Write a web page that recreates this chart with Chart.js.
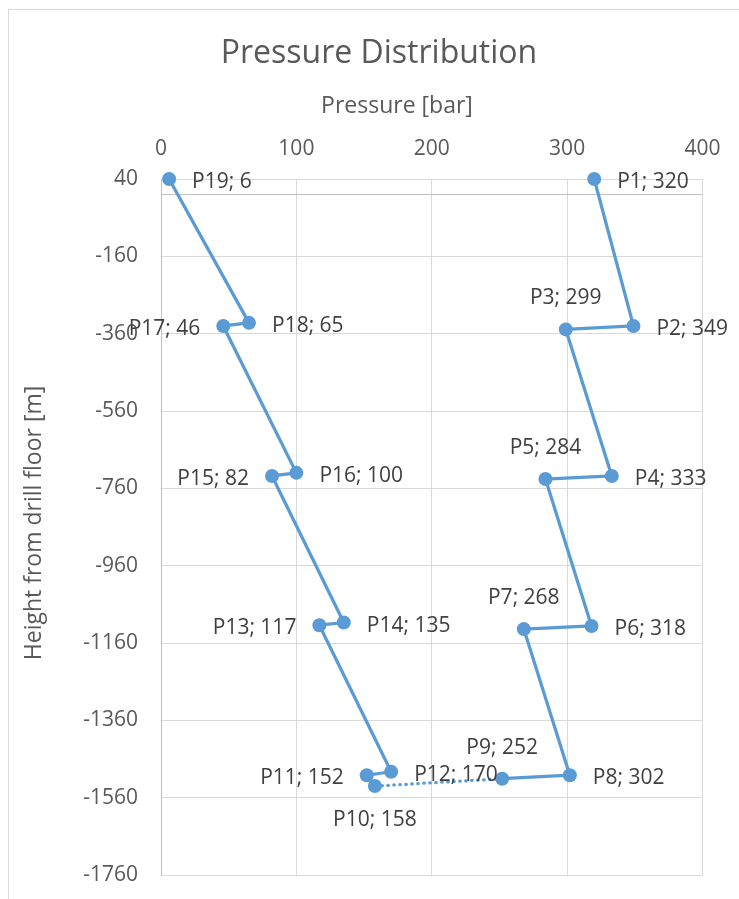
<!DOCTYPE html>
<html>
<head>
<meta charset="utf-8">
<title>Pressure Distribution</title>
<script src="https://cdn.jsdelivr.net/npm/chart.js@4/dist/chart.umd.min.js"></script>
<style>
  html, body { margin: 0; padding: 0; background: #ffffff; }
  #wrap { width: 739px; height: 899px; }
  canvas { display: block; }
</style>
</head>
<body>
<div id="wrap"><canvas id="chart" width="739" height="899"></canvas></div>
<script>
// Measuring points along the line, in flow order
const pointNames = ['P1','P2','P3','P4','P5','P6','P7','P8','P9','P10',
                    'P11','P12','P13','P14','P15','P16','P17','P18','P19'];
// Pressure at each point [bar]
const pressureBar = [320, 349, 299, 333, 284, 318, 268, 302, 252, 158,
                     152, 170, 117, 135, 82, 100, 46, 65, 6];
// Height of each point relative to the drill floor [m]
const heightM = [40, -340, -349, -728, -736, -1116, -1124, -1502, -1511, -1530,
                 -1502, -1493, -1114, -1107, -728, -720, -340, -332, 40];
// Axis tick values
const pressureTicks = [0, 100, 200, 300, 400];
const heightTicks = [40, -160, -360, -560, -760, -960, -1160, -1360, -1560, -1760];

// Which side of its marker each label sits on
const labelSide = {
  P1: 'right', P2: 'right', P3: 'above', P4: 'right', P5: 'above',
  P6: 'right', P7: 'above', P8: 'right', P9: 'above', P10: 'below',
  P11: 'left', P12: 'right', P13: 'left', P14: 'right', P15: 'left',
  P16: 'right', P17: 'left', P18: 'right', P19: 'right'
};

const FONT = "'Open Sans', sans-serif";
const BLUE = '#5B9BD5';
const GRID = '#D9D9D9';
const AXIS = '#BFBFBF';
const TEXT = '#595959';
const LABEL = '#404040';

Chart.defaults.font.family = FONT;
Chart.defaults.color = TEXT;

// Outer frame of the chart
const framePlugin = {
  id: 'frame',
  beforeDraw(chart) {
    const ctx = chart.ctx;
    ctx.save();
    ctx.fillStyle = '#ffffff';
    ctx.fillRect(0, 0, chart.width, chart.height);
    ctx.strokeStyle = GRID;
    ctx.lineWidth = 1;
    ctx.strokeRect(8.5, 9.5, chart.width + 20, chart.height + 20);
    ctx.restore();
  }
};

// Horizontal axis line where the height is zero
const zeroLinePlugin = {
  id: 'zeroLine',
  beforeDatasetsDraw(chart) {
    const { ctx, chartArea, scales } = chart;
    const y = Math.round(scales.y.getPixelForValue(0)) + 0.5;
    ctx.save();
    ctx.strokeStyle = AXIS;
    ctx.lineWidth = 1;
    ctx.beginPath();
    ctx.moveTo(chartArea.left, y);
    ctx.lineTo(chartArea.right, y);
    ctx.stroke();
    ctx.restore();
  }
};

// "Name; value" labels beside each marker
const pointLabelPlugin = {
  id: 'pointLabels',
  afterDatasetsDraw(chart) {
    const ctx = chart.ctx;
    const meta = chart.getDatasetMeta(0);
    ctx.save();
    ctx.font = '21px ' + FONT;
    ctx.fillStyle = LABEL;
    ctx.textBaseline = 'alphabetic';
    meta.data.forEach((pt, i) => {
      const name = pointNames[i];
      const text = name + '; ' + pressureBar[i];
      const side = labelSide[name];
      let x = pt.x, y = pt.y;
      if (side === 'right') { ctx.textAlign = 'left'; x += 23; y += 9; }
      else if (side === 'left') { ctx.textAlign = 'right'; x -= 23; y += 9; }
      else if (side === 'above') { ctx.textAlign = 'center'; y -= 25; }
      else { ctx.textAlign = 'center'; y += 40; }
      ctx.fillText(text, x, y);
    });
    ctx.restore();
  }
};

// Chart title and axis titles
const titlesPlugin = {
  id: 'titles',
  afterDraw(chart) {
    const ctx = chart.ctx;
    ctx.save();
    ctx.fillStyle = TEXT;
    ctx.textAlign = 'center';
    ctx.textBaseline = 'alphabetic';
    ctx.font = '32px ' + FONT;
    ctx.fillText('Pressure Distribution', 379, 63);
    ctx.font = '23px ' + FONT;
    ctx.fillText('Pressure [bar]', 397, 113);
    ctx.translate(41, 523);
    ctx.rotate(-Math.PI / 2);
    ctx.fillText('Height from drill floor [m]', 0, 0);
    ctx.restore();
  }
};

const points = pressureBar.map((p, i) => ({ x: p, y: heightM[i] }));

new Chart(document.getElementById('chart'), {
  type: 'scatter',
  data: {
    datasets: [{
      label: 'Pressure',
      data: points,
      showLine: true,
      borderColor: BLUE,
      backgroundColor: BLUE,
      borderWidth: 3.25,
      borderCapStyle: 'round',
      borderJoinStyle: 'round',
      pointRadius: 7,
      pointHoverRadius: 7,
      pointBorderWidth: 0,
      pointBackgroundColor: BLUE,
      clip: false,
      segment: {
        borderDash: ctx => (ctx.p0DataIndex === 8 ? [0.5, 5.5] : undefined)
      }
    }]
  },
  options: {
    responsive: false,
    devicePixelRatio: 1,
    animation: false,
    events: [],
    layout: { padding: { left: 0, top: 0, right: 36.5, bottom: 24 } },
    plugins: {
      legend: { display: false },
      title: { display: false },
      tooltip: { enabled: false }
    },
    scales: {
      x: {
        type: 'linear',
        position: 'top',
        min: 0,
        max: 400,
        afterBuildTicks: scale => { scale.ticks = pressureTicks.map(v => ({ value: v })); },
        afterFit: scale => { scale.height = 179; },
        ticks: {
          padding: 17,
          font: { size: 21 },
          color: TEXT,
          callback: v => String(v)
        },
        grid: { color: GRID, lineWidth: 1, drawTicks: false },
        border: { display: false }
      },
      y: {
        type: 'linear',
        position: 'left',
        min: -1760,
        max: 40,
        afterBuildTicks: scale => { scale.ticks = heightTicks.map(v => ({ value: v })); },
        afterFit: scale => {
          scale.width = 161;
          scale.paddingTop = 0;
          scale.paddingBottom = 0;
        },
        ticks: {
          padding: 23,
          font: { size: 21 },
          color: TEXT,
          callback: v => String(v)
        },
        grid: { color: GRID, lineWidth: 1, drawTicks: false },
        border: { display: true, color: AXIS, width: 1 }
      }
    }
  },
  plugins: [framePlugin, zeroLinePlugin, pointLabelPlugin, titlesPlugin]
});
</script>
</body>
</html>
